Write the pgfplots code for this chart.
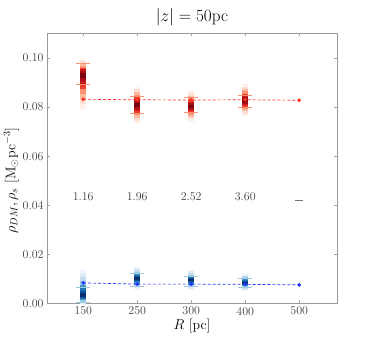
\documentclass[border=0pt]{standalone}
\usepackage{pgfplots}
\usepackage{pgfplotstable}
\pgfplotsset{compat=1.18}
\definecolor{R1}{HTML}{FFF2EC}
\definecolor{R2}{HTML}{FEE0D2}
\definecolor{R3}{HTML}{FCBBA1}
\definecolor{R4}{HTML}{FC9272}
\definecolor{R5}{HTML}{EF3B2C}
\definecolor{R6}{HTML}{CB181D}
\definecolor{R7}{HTML}{A50F15}
\definecolor{R8}{HTML}{7A0510}
\definecolor{B1}{HTML}{F2F7FD}
\definecolor{B2}{HTML}{DEEBF7}
\definecolor{B3}{HTML}{C6DBEF}
\definecolor{B4}{HTML}{9ECAE1}
\definecolor{B5}{HTML}{4292C6}
\definecolor{B6}{HTML}{2171B5}
\definecolor{B7}{HTML}{08519C}
\definecolor{B8}{HTML}{08306B}
\definecolor{redline}{HTML}{FF3322}
\definecolor{blueline}{HTML}{2233FF}
% x, centre, upper extent, lower extent, upper cap, lower cap
\pgfplotstableread{
x c u d cu cd
0 0.0935 0.0060 0.0145 0.0977 0.0893
1 0.0808 0.0076 0.0074 0.0845 0.0774
2 0.0803 0.0062 0.0062 0.0841 0.0780
3 0.0826 0.0068 0.0062 0.0848 0.0798
}\reddist
\pgfplotstableread{
x c u d cu cd
0 0.0030 0.0110 0.0040 0.0064 0.0005
1 0.0102 0.0048 0.0048 0.0122 0.0071
2 0.0094 0.0043 0.0040 0.0111 0.0072
3 0.0085 0.0038 0.0035 0.0102 0.0068
}\bluedist
\pgfplotstableread{
x y
0 0.0832
1 0.0830
2 0.0829
3 0.0830
4 0.0828
}\redline
\pgfplotstableread{
x y
0 0.0084
1 0.0079
2 0.0079
3 0.0078
4 0.0076
}\blueline
\pgfplotsset{
  layer/.style 2 args={draw=none, mark=none, forget plot,
    error bars/.cd, y dir=both, y explicit, error mark=none,
    error bar style={draw=#1, line width=6.5bp}},
}
\newcommand{\distlayers}[2]{%
  \foreach \f/\col in {1.0/#21,0.85/#22,0.7/#23,0.56/#24,0.43/#25,0.31/#26,0.2/#27,0.1/#28}{%
    \edef\tmp{\noexpand\addplot[layer={\col}{}] table[x=x,y=c,
      y error plus expr=\noexpand\thisrow{u}*\f,
      y error minus expr=\noexpand\thisrow{d}*\f] {\noexpand#1};}\tmp
  }%
}
\begin{document}
\begin{tikzpicture}
\path (-47bp,-33.5bp) rectangle (327bp,303.5bp);
\begin{axis}[
  at={(0,0)}, anchor=south west,
  scale only axis, width=290bp, height=270bp,
  xmin=-0.67, xmax=4.7, ymin=0, ymax=0.11,
  xtick={0,1,2,3,4}, xticklabels={150,250,300,400,500},
  ytick={0,0.02,0.04,0.06,0.08,0.10},
  yticklabel style={/pgf/number format/.cd, fixed, fixed zerofill, precision=2},
  tick align=inside, tick pos=both, major tick length=3bp,
  tick style={gray!70, line width=0.4pt},
  axis line style={gray!80, line width=0.8pt},
  ticklabel style={font=\fontsize{12}{14}\selectfont, text=black!75},
  title={$|z| = 50\mathrm{pc}$}, title style={font=\fontsize{18}{20}\selectfont, yshift=-2bp},
  xlabel={$R$ [pc]}, xlabel style={font=\fontsize{14}{16}\selectfont, yshift=3bp},
  ylabel={$\rho_{DM}, \rho_s$ [M$_\odot$pc$^{-3}$]},
  ylabel style={font=\fontsize{14}{16}\selectfont, at={(ticklabel cs:0.455)}, yshift=-3bp},
  clip=true,
]
\distlayers{\reddist}{R}
\distlayers{\bluedist}{B}
\addplot[only marks, mark=-, mark size=7bp, mark options={R4, line width=0.6pt}] table[x=x,y=cu] {\reddist};
\addplot[only marks, mark=-, mark size=7bp, mark options={R4, line width=0.6pt}] table[x=x,y=cd] {\reddist};
\addplot[only marks, mark=-, mark size=7bp, mark options={B4, line width=0.6pt}] table[x=x,y=cu] {\bluedist};
\addplot[only marks, mark=-, mark size=7bp, mark options={B4, line width=0.6pt}] table[x=x,y=cd] {\bluedist};
\addplot[redline, densely dashed, line width=0.7pt, mark=*, mark size=1.5bp, mark options={solid}] table[x=x,y=y] {\redline};
\addplot[blueline, densely dashed, line width=0.7pt, mark=*, mark size=1.5bp, mark options={solid}] table[x=x,y=y] {\blueline};
\foreach \i/\t in {0/1.16,1/1.96,2/2.52,3/3.60}{
  \edef\tmp{\noexpand\node[anchor=base, font=\noexpand\fontsize{12}{14}\noexpand\selectfont, text=black!75] at (axis cs:\i,0.0419) {\t};}\tmp
}
\node[anchor=base, text=black!55, inner sep=0pt] at (axis cs:4,0.0419) {\rule{7.5bp}{0.5bp}};
\end{axis}
\end{tikzpicture}
\end{document}
